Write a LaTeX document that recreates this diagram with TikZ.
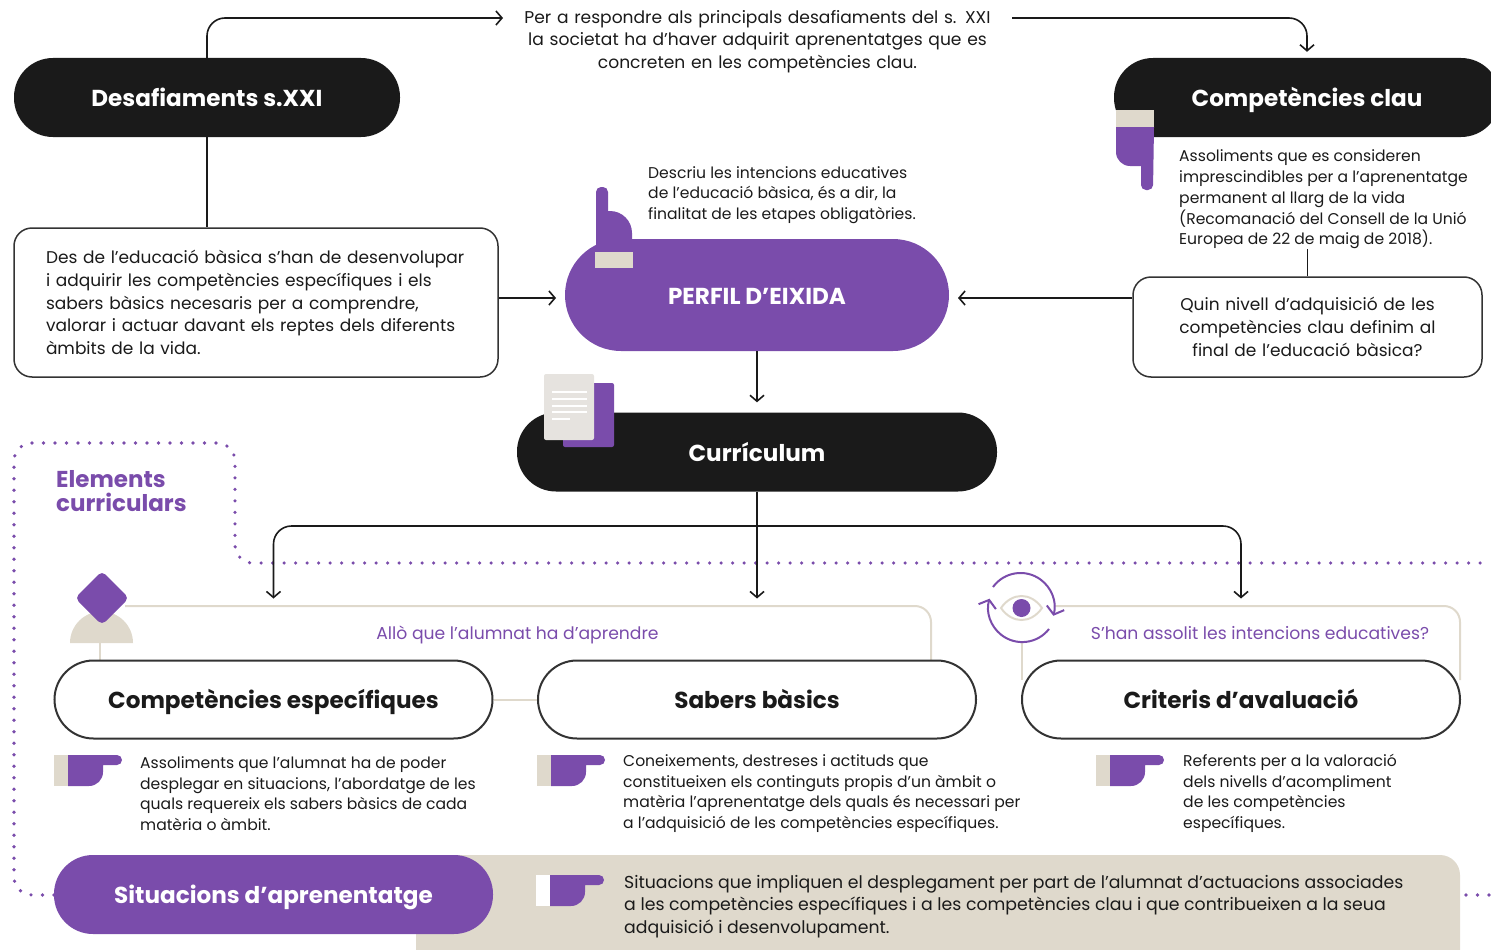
\documentclass[tikz,border=0pt]{standalone}
\usepackage{fontspec}
\setmainfont{Poppins}
\usetikzlibrary{positioning,arrows.meta}
\definecolor{pilldark}{HTML}{1A1A1A}
\definecolor{violet}{HTML}{7A4CAB}
\definecolor{sand}{HTML}{DFD9CC}
\definecolor{inkline}{HTML}{333333}
\definecolor{sheet}{HTML}{E6E3DF}
\tikzset{
    pillshape/.style={rounded corners=39pt,minimum width=386pt,minimum height=79pt,inner sep=0pt,
        text height=18.5pt,text depth=0pt,font=\fontsize{23.1}{28}\selectfont\bfseries},
    pillblack/.style={pillshape,fill=pilldark,text=white},
    pillviolet/.style={pillshape,fill=violet,text=white},
    pillwhite/.style={pillshape,draw=inkline,line width=2pt,fill=white,text=pilldark,minimum width=438pt,minimum height=78pt},
    textbox/.style={draw=inkline,line width=1.5pt,fill=white,rounded corners=18pt,inner ysep=0pt,
        text=pilldark,font=\fontsize{17}{22.7}\selectfont},
    smalltext/.style={anchor=west,align=left,inner sep=0pt,text=pilldark,font=\fontsize{15.6}{20.7}\selectfont},
    violetnote/.style={inner sep=0pt,text=violet,text height=13pt,text depth=0pt,font=\fontsize{17.2}{20}\selectfont},
    link/.style={draw=pilldark,line width=1.6pt,rounded corners=18pt,
        -{Straight Barb[length=6pt,width=14pt,line width=1.6pt]}},
    frameline/.style={draw=sand,line width=2pt,rounded corners=16pt},
    dottedline/.style={draw=violet,line width=3.6pt,line cap=round,dash pattern=on 0pt off 11.5pt,rounded corners=18pt},
    eyearrow/.style={draw=violet,line width=2pt,
        -{Straight Barb[length=7pt,width=18pt,line width=2pt]}},
    pics/hand/.style={code={
        \fill[#1] (-14,0) rectangle (0,31);
        \fill[violet] (0,0) [rounded corners=5pt] -- (54,0) -- (54,10) [sharp corners] -- (35,10)
            [rounded corners=14pt] -- (35,31) [sharp corners] -- (0,31) -- cycle;
    }}
}
\begin{document}
\begin{tikzpicture}[x=1pt,y=-1pt]
    \path[clip,use as bounding box] (0,0) rectangle (1491,950);

    \fill[sand,rounded corners=20pt] (416,855) rectangle (1460,975);
    \draw[dottedline] (54,895) -| (14,443) -| (235,563) -- (1491,563);
    \draw[dottedline] (1466,895) -- (1491,895);

    \node[pillblack] (desafiaments) at (207,97.5) {Desafiaments s.XXI};
    \node[pillblack] (competencies) at (1307,97.5) {Competències clau};
    \node[pillviolet,minimum width=384pt,minimum height=112pt,rounded corners=56pt] (perfil) at (757,295) {PERFIL D’EIXIDA};
    \node[pillblack,minimum width=480pt] (curriculum) at (757,452) {Currículum};
    \node[pillviolet,minimum width=439pt] (situacions) at (273.5,894.5) {Situacions d’aprenentatge};

    \node[inner sep=0pt,align=center,text=pilldark,font=\fontsize{17.1}{22.4}\selectfont,text width=509pt] (repte) at (757.5,41.5)
        {Per a respondre als principals desafiaments del s. XXI\\la societat ha d’haver adquirit aprenentatges que es\\concreten en les competències clau.};
    \coordinate (repteIn) at (503,18);
    \coordinate (repteOut) at (1012,18);
    \node[textbox,text width=420pt,inner xsep=32pt,minimum height=149pt,align=left] (reptesBox) at (256,302.5)
        {Des de l’educació bàsica s’han de desenvolupar\\i adquirir les competències específiques i els\\sabers bàsics necesaris per a comprendre,\\valorar i actuar davant els reptes dels diferents\\àmbits de la vida.};
    \node[textbox,text width=349pt,inner xsep=0pt,minimum height=100pt,align=center] (nivellBox) at (1307.5,327)
        {Quin nivell d’adquisició de les\\competències clau definim al\\final de l’educació bàsica?};
    \node[smalltext] (intencions) at (648,195)
        {Descriu les intencions educatives\\de l’educació bàsica, és a dir, la\\finalitat de les etapes obligatòries.};
    \node[smalltext] (assoliments) at (1179,199.5)
        {Assoliments que es consideren\\imprescindibles per a l’aprenentatge\\permanent al llarg de la vida\\(Recomanació del Consell de la Unió\\Europea de 22 de maig de 2018).};
    \coordinate (perfilIn) at (556,298);
    \coordinate (perfilOut) at (958,298);
    \coordinate (branch) at (757,526);

    \node[anchor=west,align=left,inner sep=0pt,text=violet,font=\fontsize{23}{24}\selectfont\bfseries] (elements) at (56,491.5) {Elements\\curriculars};

    \draw[link] (desafiaments.north) |- (repteIn);
    \draw[link,shorten >=6pt] (repteOut) -| (competencies.north);
    \draw[draw=pilldark,line width=1.6pt] (desafiaments.south) -- (desafiaments.south |- reptesBox.north);
    \draw[draw=pilldark,line width=1.6pt] (nivellBox.north) -- (nivellBox.north |- assoliments.south);
    \draw[link] (reptesBox.east |- perfilIn) -- (perfilIn);
    \draw[link] (nivellBox.west |- perfilOut) -- (perfilOut);
    \draw[link,shorten >=10pt] (perfil.south) -- (curriculum.north);

    \draw[frameline] (125,606) -| (931,660);
    \draw[frameline] (1055,606) -| (1460,680);
    \draw[frameline] (100,643) -- (100,660);
    \draw[frameline] (1021.5,643) -- (1021.5,680);

    \node[pillwhite] (especifiques) at (273.5,699.5) {Competències específiques};
    \node[pillwhite] (sabers) at (757,699.5) {Sabers bàsics};
    \node[pillwhite] (criteris) at (1241,699.5) {Criteris d’avaluació};
    \draw[frameline] (especifiques.east) -- (sabers.west);

    \draw[link,shorten >=61pt] (curriculum.south) -- (sabers.north);
    \draw[link,shorten >=61pt] (branch) -| (especifiques.north);
    \draw[link,shorten >=61pt] (branch) -| (criteris.north);

    \node[violetnote] (aprendre) at (517.5,633) {Allò que l’alumnat ha d’aprendre};
    \node[violetnote] (assolit) at (1260,633) {S’han assolit les intencions educatives?};

    \node[smalltext] (especifiquesText) at (140,793.5)
        {Assoliments que l’alumnat ha de poder\\desplegar en situacions, l’abordatge de les\\quals requereix els sabers bàsics de cada\\matèria o àmbit.};
    \node[smalltext] (sabersText) at (623,793.5)
        {Coneixements, destreses i actituds que\\constitueixen els continguts propis d’un àmbit o\\matèria l’aprenentatge dels quals és necessari per\\a l’adquisició de les competències específiques.};
    \node[smalltext] (criterisText) at (1183,793.5)
        {Referents per a la valoració\\dels nivells d’acompliment\\de les competències\\específiques.};
    \node[smalltext,font=\fontsize{17.3}{22.5}\selectfont] (situacionsText) at (624,906.5)
        {Situacions que impliquen el desplegament per part de l’alumnat d’actuacions associades\\a les competències específiques i a les competències clau i que contribueixen a la seua\\adquisició i desenvolupament.};

    \pic at (68,755) {hand=sand};
    \pic at (551,755) {hand=sand};
    \pic at (1110,755) {hand=sand};
    \pic at (550,875) {hand=white};

    \fill[violet] (1116,127) -- (1154,127) [rounded corners=5pt] -- (1153,190) -- (1141,190)
        [sharp corners] -- (1141,166) [rounded corners=14pt] -- (1116,166) [sharp corners] -- (1116,127) -- cycle;
    \fill[sand] (1116,110) rectangle (1154,127);

    \fill[violet] (596,245) [rounded corners=5pt] -- (596,187) -- (608,187) [sharp corners] -- (608,211)
        [rounded corners=22pt] -- (632,211) [sharp corners] -- (632,245) -- cycle;
    \fill[sand] (595,252) rectangle (633,268);

    \fill[violet,rounded corners=2pt] (563,383) rectangle (614,447);
    \fill[sheet,rounded corners=2pt] (544,374) rectangle (594,440);
    \foreach \ypos in {392,399,406,412} {
        \draw[white,line width=1.2pt] (552,\ypos) -- (587,\ypos);
    }
    \draw[white,line width=1.2pt] (552,419) -- (570,419);

    \fill[sand] (70,643) arc[start angle=180,end angle=0,radius=31.5pt] -- cycle;
    \fill[violet,rounded corners=5pt] (102,571) -- (129,598) -- (102,625) -- (75,598) -- cycle;

    \draw[eyearrow] (993,587) arc[start angle=144,end angle=-15,radius=34pt];
    \draw[eyearrow] (1049,629) arc[start angle=-38,end angle=-196,radius=34pt];
    \draw[sand,line width=2pt] (1001,608) .. controls (1012,592) and (1031,592) .. (1042,608)
        .. controls (1031,624) and (1012,624) .. (1001,608) -- cycle;
    \fill[violet] (1021.5,608) circle[radius=9pt];
\end{tikzpicture}
\end{document}
